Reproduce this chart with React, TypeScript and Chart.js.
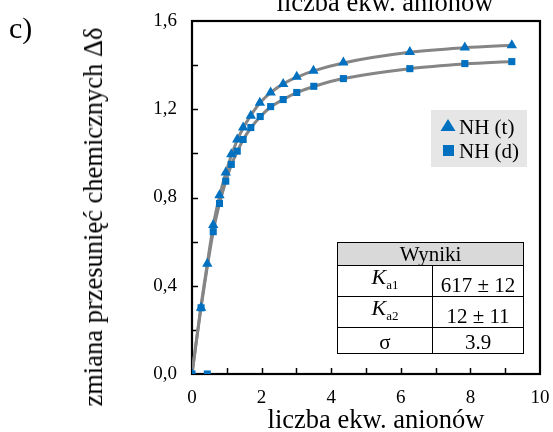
import React, { useEffect, useRef } from 'react';
import { Chart, registerables } from 'chart.js';
Chart.register(...registerables);

// NH (t) – triangles
const xT = [0, 0.26, 0.44, 0.61, 0.79, 0.97, 1.13, 1.30, 1.47, 1.69, 1.95, 2.26, 2.62, 3.01, 3.49, 4.35, 6.26, 7.84, 9.19];
const yT = [0, 0.30, 0.50, 0.675, 0.81, 0.913, 0.996, 1.063, 1.117, 1.171, 1.229, 1.276, 1.315, 1.347, 1.374, 1.412, 1.46, 1.48, 1.49];
// NH (d) – squares
const xD = [0, 0.26, 0.44, 0.61, 0.79, 0.97, 1.13, 1.30, 1.47, 1.69, 1.96, 2.26, 2.62, 3.01, 3.50, 4.35, 6.26, 7.84, 9.19];
const yD = [0, 0.30, 0, 0.645, 0.773, 0.874, 0.95, 1.01, 1.063, 1.117, 1.167, 1.212, 1.244, 1.276, 1.304, 1.339, 1.384, 1.407, 1.416];
// fitted curves
const fitXT = [0, 0.26, 0.44, 0.61, 0.79, 0.97, 1.13, 1.30, 1.47, 1.69, 1.95, 2.26, 2.62, 3.01, 3.49, 4.35, 6.26, 7.84, 9.19];
const fitYT = [0, 0.31, 0.50, 0.672, 0.805, 0.91, 0.99, 1.06, 1.115, 1.172, 1.228, 1.275, 1.315, 1.345, 1.374, 1.41, 1.458, 1.479, 1.49];
const fitXD = [0, 0.26, 0.61, 0.79, 0.97, 1.13, 1.30, 1.47, 1.69, 1.96, 2.26, 2.62, 3.01, 3.50, 4.35, 6.26, 7.84, 9.19];
const fitYD = [0, 0.30, 0.645, 0.772, 0.872, 0.948, 1.008, 1.062, 1.115, 1.166, 1.21, 1.244, 1.275, 1.303, 1.339, 1.384, 1.405, 1.416];

const legendLabels = ['NH (t)', 'NH (d)'];
const xTicksLabeled = [0, 2, 4, 6, 8, 10];
const yTicksLabeled = [0, 0.4, 0.8, 1.2, 1.6];

const BLUE = '#0070C0';
const GRAY = '#858585';
const FONT = '"Liberation Serif", "Times New Roman", serif';

const pts = (xs: number[], ys: number[]) => xs.map((x, i) => ({ x, y: ys[i] }));

const framePlugin = {
  id: 'frameTicks',
  beforeDatasetsDraw(chart: any) {
    const { ctx, chartArea: a, scales } = chart;
    ctx.save();
    ctx.strokeStyle = '#000';
    ctx.lineWidth = 1.5;
    const xs = scales.x, ys = scales.y;
    ctx.beginPath();
    for (let v = 1; v < 10; v++) {
      const px = Math.round(xs.getPixelForValue(v)) + 0.5;
      ctx.moveTo(px, a.bottom);
      ctx.lineTo(px, a.bottom - 6);
    }
    for (let k = 1; k < 8; k++) {
      const py = Math.round(ys.getPixelForValue(k * 0.2)) + 0.5;
      ctx.moveTo(a.left, py);
      ctx.lineTo(a.left + 6, py);
    }
    ctx.stroke();
    ctx.lineWidth = 2.2;
    ctx.strokeRect(a.left, a.top, a.right - a.left, a.bottom - a.top);
    ctx.restore();
  },
  afterDraw(chart: any) {
    const { ctx } = chart;
    ctx.save();
    // legend box
    ctx.fillStyle = '#e6e6e6';
    ctx.fillRect(431, 110, 96, 57);
    ctx.fillStyle = BLUE;
    // triangle
    const tx = 448, ty = 126;
    ctx.beginPath();
    ctx.moveTo(tx, ty - 7);
    ctx.lineTo(tx + 7.5, ty + 5);
    ctx.lineTo(tx - 7.5, ty + 5);
    ctx.closePath();
    ctx.fill();
    // square
    ctx.fillRect(443, 145, 11, 11);
    ctx.fillStyle = '#000';
    ctx.font = `21px ${FONT}`;
    ctx.textBaseline = 'middle';
    ctx.fillText(legendLabels[0], 459, 128);
    ctx.fillText(legendLabels[1], 459, 152);
    ctx.restore();
  },
};

export default function App() {
  const ref = useRef<HTMLCanvasElement | null>(null);
  useEffect(() => {
    if (!ref.current) return;
    const chart = new Chart(ref.current, {
      type: 'scatter',
      data: {
        datasets: [
          {
            label: legendLabels[1],
            data: pts(xD, yD),
            showLine: false,
            pointStyle: 'rect',
            pointRadius: 5,
            pointBackgroundColor: BLUE,
            pointBorderWidth: 0,
            order: 0,
          },
          {
            label: legendLabels[0],
            data: pts(xT, yT),
            showLine: false,
            pointStyle: 'triangle',
            pointRadius: 6,
            pointBackgroundColor: BLUE,
            pointBorderWidth: 0,
            order: 1,
          },
          {
            label: 'fit t',
            data: pts(fitXT, fitYT),
            showLine: true,
            borderColor: GRAY,
            borderWidth: 3,
            pointRadius: 0,
            cubicInterpolationMode: 'monotone',
            order: 2,
          },
          {
            label: 'fit d',
            data: pts(fitXD, fitYD),
            showLine: true,
            borderColor: GRAY,
            borderWidth: 3,
            pointRadius: 0,
            cubicInterpolationMode: 'monotone',
            order: 3,
          },
        ],
      } as any,
      options: {
        animation: false,
        responsive: false,
        maintainAspectRatio: false,
        layout: { padding: { top: 21, right: 13, left: 0, bottom: 0 } },
        plugins: { legend: { display: false }, tooltip: { enabled: false } },
        scales: {
          x: {
            type: 'linear',
            min: 0,
            max: 10,
            grid: { display: false, drawTicks: false },
            border: { display: false },
            ticks: {
              stepSize: 2,
              padding: 13,
              color: '#000',
              font: { family: FONT, size: 19 },
              callback: (v: any) => (xTicksLabeled.includes(Number(v)) ? String(v) : ''),
            },
            afterFit: (s: any) => {
              s.height = 58;
              s.paddingLeft = 0;
              s.paddingRight = 0;
            },
          },
          y: {
            type: 'linear',
            min: 0,
            max: 1.6,
            grid: { display: false, drawTicks: false },
            border: { display: false },
            ticks: {
              stepSize: 0.4,
              padding: 15,
              color: '#000',
              font: { family: FONT, size: 19 },
              callback: (v: any) => {
                const n = Number(v);
                return yTicksLabeled.some((t) => Math.abs(t - n) < 1e-6) ? n.toFixed(1).replace('.', ',') : '';
              },
            },
            afterFit: (s: any) => {
              s.width = 192;
              s.paddingTop = 0;
              s.paddingBottom = 0;
            },
          },
        },
      } as any,
      plugins: [framePlugin],
    });
    return () => chart.destroy();
  }, []);

  const cell: React.CSSProperties = {
    border: '1.5px solid #000',
    padding: '0 2px',
    textAlign: 'center',
    verticalAlign: 'bottom',
    lineHeight: '22px',
  };

  return (
    <div style={{ position: 'fixed', left: 0, top: 0, width: 553, height: 432, overflow: 'hidden', background: '#fff', fontFamily: FONT }}>
      <canvas ref={ref} width={553} height={432} style={{ position: 'absolute', left: 0, top: 0, width: 553, height: 432 }} />
      <div style={{ position: 'absolute', left: 9, top: 11, fontSize: 30, lineHeight: '34px' }}>c)</div>
      <div style={{ position: 'absolute', left: 385, top: -11, transform: 'translateX(-50%)', fontSize: 26.5, lineHeight: '26px', whiteSpace: 'nowrap' }}>liczba ekw. anionów</div>
      <div style={{ position: 'absolute', left: 376, top: 406, transform: 'translateX(-50%)', fontSize: 26.5, lineHeight: '26px', whiteSpace: 'nowrap' }}>liczba ekw. anionów</div>
      <div style={{ position: 'absolute', left: 93, top: 217, transform: 'translate(-50%, -50%) rotate(-90deg)', fontSize: 26.5, lineHeight: '26px', whiteSpace: 'nowrap' }}>zmiana przesunięć chemicznych Δδ</div>
      <table style={{ position: 'absolute', left: 337, top: 242, width: 187, borderCollapse: 'collapse', fontSize: 21, fontFamily: FONT }}>
        <tbody>
          <tr style={{ height: 23 }}>
            <td colSpan={2} style={{ ...cell, background: '#d9d9d9', lineHeight: '21px' }}>Wyniki</td>
          </tr>
          <tr style={{ height: 29 }}>
            <td style={{ ...cell, width: 90 }}><i style={{ fontSize: 22 }}>K</i><sub style={{ fontSize: 13 }}>a1</sub></td>
            <td style={cell}>617 ± 12</td>
          </tr>
          <tr style={{ height: 28 }}>
            <td style={cell}><i style={{ fontSize: 22 }}>K</i><sub style={{ fontSize: 13 }}>a2</sub></td>
            <td style={cell}>12 ± 11</td>
          </tr>
          <tr style={{ height: 26 }}>
            <td style={cell}>σ</td>
            <td style={cell}>3.9</td>
          </tr>
        </tbody>
      </table>
    </div>
  );
}
